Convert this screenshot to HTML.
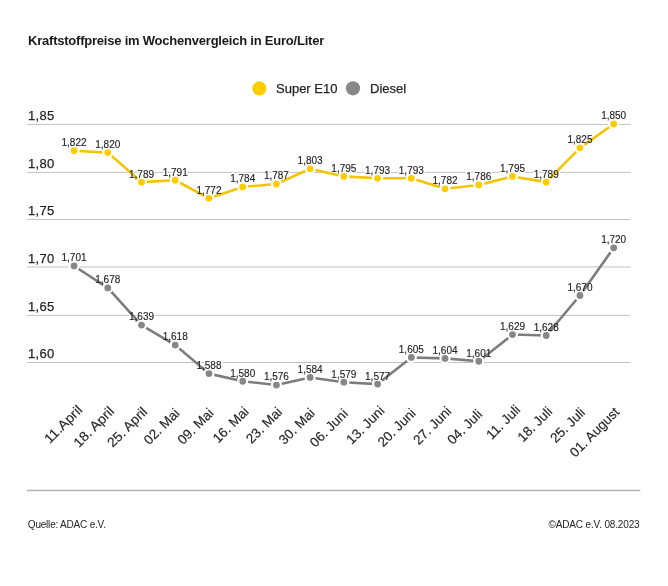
<!DOCTYPE html>
<html><head><meta charset="utf-8"><title>Kraftstoffpreise</title>
<style>
html,body{margin:0;padding:0;background:#fff;}
body{width:668px;height:586px;overflow:hidden;font-family:"Liberation Sans", sans-serif;}
svg{display:block;font-family:"Liberation Sans", sans-serif;will-change:transform;}
text.w{stroke:#262626;stroke-width:0.25px;}
text.d,text.h{font-size:10px;letter-spacing:0px;text-anchor:middle;}
text.d{fill:#262626;stroke:#262626;stroke-width:0.15px;}
text.h{fill:#fff;stroke:#fff;stroke-width:3px;stroke-linejoin:round;}
</style></head>
<body>
<svg width="668" height="586" viewBox="0 0 668 586">
<rect width="668" height="586" fill="#fff"/>
<line x1="27" y1="124.40" x2="630.5" y2="124.40" stroke="#c2c2c2" stroke-width="1"/>
<text class="w" x="28" y="120.00" font-size="13" letter-spacing="0.3" fill="#262626">1,85</text>
<line x1="27" y1="172.40" x2="630.5" y2="172.40" stroke="#c2c2c2" stroke-width="1"/>
<text class="w" x="28" y="168.00" font-size="13" letter-spacing="0.3" fill="#262626">1,80</text>
<line x1="27" y1="219.50" x2="630.5" y2="219.50" stroke="#c2c2c2" stroke-width="1"/>
<text class="w" x="28" y="215.10" font-size="13" letter-spacing="0.3" fill="#262626">1,75</text>
<line x1="27" y1="267.00" x2="630.5" y2="267.00" stroke="#c2c2c2" stroke-width="1"/>
<text class="w" x="28" y="262.60" font-size="13" letter-spacing="0.3" fill="#262626">1,70</text>
<line x1="27" y1="315.40" x2="630.5" y2="315.40" stroke="#c2c2c2" stroke-width="1"/>
<text class="w" x="28" y="311.00" font-size="13" letter-spacing="0.3" fill="#262626">1,65</text>
<line x1="27" y1="362.50" x2="630.5" y2="362.50" stroke="#c2c2c2" stroke-width="1"/>
<text class="w" x="28" y="358.10" font-size="13" letter-spacing="0.3" fill="#262626">1,60</text>
<line x1="27" y1="490.4" x2="640.3" y2="490.4" stroke="#b2b2b2" stroke-width="1.5"/>
<text class="h" x="74.06" y="261.37">1,701</text>
<text class="h" x="107.79" y="283.28">1,678</text>
<text class="h" x="141.51" y="320.44">1,639</text>
<text class="h" x="175.24" y="340.44">1,618</text>
<text class="h" x="208.96" y="369.02">1,588</text>
<text class="h" x="242.69" y="376.64">1,580</text>
<text class="h" x="276.42" y="380.45">1,576</text>
<text class="h" x="310.14" y="372.83">1,584</text>
<text class="h" x="343.87" y="377.60">1,579</text>
<text class="h" x="377.59" y="379.50">1,577</text>
<text class="h" x="411.32" y="352.83">1,605</text>
<text class="h" x="445.05" y="353.78">1,604</text>
<text class="h" x="478.77" y="356.64">1,601</text>
<text class="h" x="512.50" y="329.96">1,629</text>
<text class="h" x="546.22" y="330.92">1,628</text>
<text class="h" x="579.95" y="290.90">1,670</text>
<text class="h" x="613.68" y="243.27">1,720</text>
<text class="h" x="74.06" y="146.10">1,822</text>
<text class="h" x="107.79" y="148.00">1,820</text>
<text class="h" x="141.51" y="177.54">1,789</text>
<text class="h" x="175.24" y="175.63">1,791</text>
<text class="h" x="208.96" y="193.73">1,772</text>
<text class="h" x="242.69" y="182.30">1,784</text>
<text class="h" x="276.42" y="179.44">1,787</text>
<text class="h" x="310.14" y="164.20">1,803</text>
<text class="h" x="343.87" y="171.82">1,795</text>
<text class="h" x="377.59" y="173.72">1,793</text>
<text class="h" x="411.32" y="173.72">1,793</text>
<text class="h" x="445.05" y="184.20">1,782</text>
<text class="h" x="478.77" y="180.39">1,786</text>
<text class="h" x="512.50" y="171.82">1,795</text>
<text class="h" x="546.22" y="177.54">1,789</text>
<text class="h" x="579.95" y="143.24">1,825</text>
<text class="h" x="613.68" y="119.42">1,850</text>
<polyline points="74.06,265.97 107.79,287.88 141.51,325.04 175.24,345.04 208.96,373.62 242.69,381.24 276.42,385.05 310.14,377.43 343.87,382.20 377.59,384.10 411.32,357.43 445.05,358.38 478.77,361.24 512.50,334.56 546.22,335.52 579.95,295.50 613.68,247.87" fill="none" stroke="#7d7d7d" stroke-width="2.6" stroke-linejoin="round"/>
<circle cx="74.06" cy="265.97" r="4.5" fill="#878787" stroke="#fff" stroke-width="2.2"/>
<circle cx="107.79" cy="287.88" r="4.5" fill="#878787" stroke="#fff" stroke-width="2.2"/>
<circle cx="141.51" cy="325.04" r="4.5" fill="#878787" stroke="#fff" stroke-width="2.2"/>
<circle cx="175.24" cy="345.04" r="4.5" fill="#878787" stroke="#fff" stroke-width="2.2"/>
<circle cx="208.96" cy="373.62" r="4.5" fill="#878787" stroke="#fff" stroke-width="2.2"/>
<circle cx="242.69" cy="381.24" r="4.5" fill="#878787" stroke="#fff" stroke-width="2.2"/>
<circle cx="276.42" cy="385.05" r="4.5" fill="#878787" stroke="#fff" stroke-width="2.2"/>
<circle cx="310.14" cy="377.43" r="4.5" fill="#878787" stroke="#fff" stroke-width="2.2"/>
<circle cx="343.87" cy="382.20" r="4.5" fill="#878787" stroke="#fff" stroke-width="2.2"/>
<circle cx="377.59" cy="384.10" r="4.5" fill="#878787" stroke="#fff" stroke-width="2.2"/>
<circle cx="411.32" cy="357.43" r="4.5" fill="#878787" stroke="#fff" stroke-width="2.2"/>
<circle cx="445.05" cy="358.38" r="4.5" fill="#878787" stroke="#fff" stroke-width="2.2"/>
<circle cx="478.77" cy="361.24" r="4.5" fill="#878787" stroke="#fff" stroke-width="2.2"/>
<circle cx="512.50" cy="334.56" r="4.5" fill="#878787" stroke="#fff" stroke-width="2.2"/>
<circle cx="546.22" cy="335.52" r="4.5" fill="#878787" stroke="#fff" stroke-width="2.2"/>
<circle cx="579.95" cy="295.50" r="4.5" fill="#878787" stroke="#fff" stroke-width="2.2"/>
<circle cx="613.68" cy="247.87" r="4.5" fill="#878787" stroke="#fff" stroke-width="2.2"/>
<polyline points="74.06,150.70 107.79,152.60 141.51,182.14 175.24,180.23 208.96,198.33 242.69,186.90 276.42,184.04 310.14,168.80 343.87,176.42 377.59,178.32 411.32,178.32 445.05,188.80 478.77,184.99 512.50,176.42 546.22,182.14 579.95,147.84 613.68,124.02" fill="none" stroke="#f4c400" stroke-width="2.6" stroke-linejoin="round"/>
<circle cx="74.06" cy="150.70" r="4.5" fill="#ffcc00" stroke="#fff" stroke-width="2.2"/>
<circle cx="107.79" cy="152.60" r="4.5" fill="#ffcc00" stroke="#fff" stroke-width="2.2"/>
<circle cx="141.51" cy="182.14" r="4.5" fill="#ffcc00" stroke="#fff" stroke-width="2.2"/>
<circle cx="175.24" cy="180.23" r="4.5" fill="#ffcc00" stroke="#fff" stroke-width="2.2"/>
<circle cx="208.96" cy="198.33" r="4.5" fill="#ffcc00" stroke="#fff" stroke-width="2.2"/>
<circle cx="242.69" cy="186.90" r="4.5" fill="#ffcc00" stroke="#fff" stroke-width="2.2"/>
<circle cx="276.42" cy="184.04" r="4.5" fill="#ffcc00" stroke="#fff" stroke-width="2.2"/>
<circle cx="310.14" cy="168.80" r="4.5" fill="#ffcc00" stroke="#fff" stroke-width="2.2"/>
<circle cx="343.87" cy="176.42" r="4.5" fill="#ffcc00" stroke="#fff" stroke-width="2.2"/>
<circle cx="377.59" cy="178.32" r="4.5" fill="#ffcc00" stroke="#fff" stroke-width="2.2"/>
<circle cx="411.32" cy="178.32" r="4.5" fill="#ffcc00" stroke="#fff" stroke-width="2.2"/>
<circle cx="445.05" cy="188.80" r="4.5" fill="#ffcc00" stroke="#fff" stroke-width="2.2"/>
<circle cx="478.77" cy="184.99" r="4.5" fill="#ffcc00" stroke="#fff" stroke-width="2.2"/>
<circle cx="512.50" cy="176.42" r="4.5" fill="#ffcc00" stroke="#fff" stroke-width="2.2"/>
<circle cx="546.22" cy="182.14" r="4.5" fill="#ffcc00" stroke="#fff" stroke-width="2.2"/>
<circle cx="579.95" cy="147.84" r="4.5" fill="#ffcc00" stroke="#fff" stroke-width="2.2"/>
<circle cx="613.68" cy="124.02" r="4.5" fill="#ffcc00" stroke="#fff" stroke-width="2.2"/>
<text class="d" x="74.06" y="261.37">1,701</text>
<text class="d" x="107.79" y="283.28">1,678</text>
<text class="d" x="141.51" y="320.44">1,639</text>
<text class="d" x="175.24" y="340.44">1,618</text>
<text class="d" x="208.96" y="369.02">1,588</text>
<text class="d" x="242.69" y="376.64">1,580</text>
<text class="d" x="276.42" y="380.45">1,576</text>
<text class="d" x="310.14" y="372.83">1,584</text>
<text class="d" x="343.87" y="377.60">1,579</text>
<text class="d" x="377.59" y="379.50">1,577</text>
<text class="d" x="411.32" y="352.83">1,605</text>
<text class="d" x="445.05" y="353.78">1,604</text>
<text class="d" x="478.77" y="356.64">1,601</text>
<text class="d" x="512.50" y="329.96">1,629</text>
<text class="d" x="546.22" y="330.92">1,628</text>
<text class="d" x="579.95" y="290.90">1,670</text>
<text class="d" x="613.68" y="243.27">1,720</text>
<text class="d" x="74.06" y="146.10">1,822</text>
<text class="d" x="107.79" y="148.00">1,820</text>
<text class="d" x="141.51" y="177.54">1,789</text>
<text class="d" x="175.24" y="175.63">1,791</text>
<text class="d" x="208.96" y="193.73">1,772</text>
<text class="d" x="242.69" y="182.30">1,784</text>
<text class="d" x="276.42" y="179.44">1,787</text>
<text class="d" x="310.14" y="164.20">1,803</text>
<text class="d" x="343.87" y="171.82">1,795</text>
<text class="d" x="377.59" y="173.72">1,793</text>
<text class="d" x="411.32" y="173.72">1,793</text>
<text class="d" x="445.05" y="184.20">1,782</text>
<text class="d" x="478.77" y="180.39">1,786</text>
<text class="d" x="512.50" y="171.82">1,795</text>
<text class="d" x="546.22" y="177.54">1,789</text>
<text class="d" x="579.95" y="143.24">1,825</text>
<text class="d" x="613.68" y="119.42">1,850</text>
<text class="w xl" x="83.23" y="410.77" font-size="13.5" text-anchor="end" fill="#262626" style="stroke-width:0.15px" textLength="47.5" lengthAdjust="spacingAndGlyphs" transform="rotate(-45 83.23 410.77)">11.April</text>
<text class="w xl" x="115.02" y="412.11" font-size="13.5" text-anchor="end" fill="#262626" style="stroke-width:0.15px" textLength="51" lengthAdjust="spacingAndGlyphs" transform="rotate(-45 115.02 412.11)">18. April</text>
<text class="w xl" x="148.11" y="412.75" font-size="13.5" text-anchor="end" fill="#262626" style="stroke-width:0.15px" textLength="50" lengthAdjust="spacingAndGlyphs" transform="rotate(-45 148.11 412.75)">25. April</text>
<text class="w xl" x="180.49" y="414.09" font-size="13.5" text-anchor="end" fill="#262626" style="stroke-width:0.15px" transform="rotate(-45 180.49 414.09)">02. Mai</text>
<text class="w xl" x="214.36" y="413.95" font-size="13.5" text-anchor="end" fill="#262626" style="stroke-width:0.15px" transform="rotate(-45 214.36 413.95)">09. Mai</text>
<text class="w xl" x="249.64" y="412.39" font-size="13.5" text-anchor="end" fill="#262626" style="stroke-width:0.15px" transform="rotate(-45 249.64 412.39)">16. Mai</text>
<text class="w xl" x="282.87" y="412.89" font-size="13.5" text-anchor="end" fill="#262626" style="stroke-width:0.15px" transform="rotate(-45 282.87 412.89)">23. Mai</text>
<text class="w xl" x="315.61" y="413.88" font-size="13.5" text-anchor="end" fill="#262626" style="stroke-width:0.15px" transform="rotate(-45 315.61 413.88)">30. Mai</text>
<text class="w xl" x="348.77" y="414.44" font-size="13.5" text-anchor="end" fill="#262626" style="stroke-width:0.15px" transform="rotate(-45 348.77 414.44)">06. Juni</text>
<text class="w xl" x="385.32" y="411.61" font-size="13.5" text-anchor="end" fill="#262626" style="stroke-width:0.15px" transform="rotate(-45 385.32 411.61)">13. Juni</text>
<text class="w xl" x="416.64" y="414.02" font-size="13.5" text-anchor="end" fill="#262626" style="stroke-width:0.15px" transform="rotate(-45 416.64 414.02)">20. Juni</text>
<text class="w xl" x="452.21" y="412.18" font-size="13.5" text-anchor="end" fill="#262626" style="stroke-width:0.15px" transform="rotate(-45 452.21 412.18)">27. Juni</text>
<text class="w xl" x="483.03" y="415.08" font-size="13.5" text-anchor="end" fill="#262626" style="stroke-width:0.15px" transform="rotate(-45 483.03 415.08)">04. Juli</text>
<text class="w xl" x="521.21" y="410.62" font-size="13.5" text-anchor="end" fill="#262626" style="stroke-width:0.15px" transform="rotate(-45 521.21 410.62)">11. Juli</text>
<text class="w xl" x="553.17" y="412.39" font-size="13.5" text-anchor="end" fill="#262626" style="stroke-width:0.15px" transform="rotate(-45 553.17 412.39)">18. Juli</text>
<text class="w xl" x="585.98" y="413.31" font-size="13.5" text-anchor="end" fill="#262626" style="stroke-width:0.15px" transform="rotate(-45 585.98 413.31)">25. Juli</text>
<text class="w xl" x="620.27" y="412.75" font-size="13.5" text-anchor="end" fill="#262626" style="stroke-width:0.15px" transform="rotate(-45 620.27 412.75)">01. August</text>
<text x="28" y="45.3" font-size="13" font-weight="bold" fill="#1a1a1a" letter-spacing="-0.22">Kraftstoffpreise im Wochenvergleich in Euro/Liter</text>
<circle cx="259.4" cy="88.4" r="7.1" fill="#ffcc00"/>
<text class="w" x="276" y="92.6" font-size="13" fill="#262626">Super E10</text>
<circle cx="353" cy="88.3" r="7.1" fill="#878787"/>
<text class="w" x="370" y="92.6" font-size="13" fill="#262626">Diesel</text>
<text x="27.8" y="528" font-size="10" letter-spacing="-0.2" fill="#262626">Quelle: ADAC e.V.</text>
<text x="639.5" y="527.6" font-size="10" letter-spacing="-0.15" text-anchor="end" fill="#262626">©ADAC e.V. 08.2023</text>
</svg>
</body></html>
